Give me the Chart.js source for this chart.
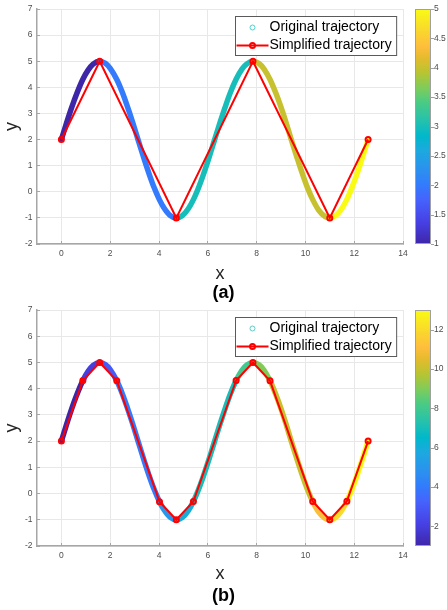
<!DOCTYPE html>
<html lang="en">
<head>
<meta charset="UTF-8">
<title>Trajectory simplification</title>
<script src="https://cdn.jsdelivr.net/npm/chart.js"></script>
<style>
  body { margin: 0; background: #fff; }
  .panel { position: relative; width: 447px; }
</style>
</head>
<body>
<div class="panel" style="height: 302px;"><canvas id="chartA"></canvas></div>
<div class="panel" style="height: 308px;"><canvas id="chartB"></canvas></div>
<script>
// sampled original trajectory
const origX = [0, 0.2, 0.4, 0.6, 0.88, 1.1, 1.3, 1.57, 1.8, 2.0, 2.27, 2.5, 2.7, 2.9, 3.14,
  3.4, 3.6, 3.8, 4.02, 4.2, 4.45, 4.71, 4.95, 5.2, 5.41, 5.6, 5.8, 6.05, 6.28, 6.5, 6.7, 6.9,
  7.16, 7.4, 7.6, 7.85, 8.1, 8.3, 8.55, 8.8, 9.0, 9.2, 9.42, 9.65, 9.9, 10.1, 10.3, 10.55,
  10.8, 11.0, 11.2, 11.45, 11.7, 11.9, 12.1, 12.3, 12.57];
const origY = [2.00, 2.60, 3.17, 3.69, 4.31, 4.67, 4.89, 5.00, 4.92, 4.73, 4.30, 3.80, 3.28, 2.72, 2.00,
  1.23, 0.67, 0.16, -0.31, -0.61, -0.90, -1.00, -0.92, -0.65, -0.30, 0.11, 0.61, 1.31, 2.00, 2.65, 3.21, 3.74,
  4.31, 4.70, 4.90, 5.00, 4.91, 4.71, 4.30, 3.75, 3.24, 2.67, 2.00, 1.33, 0.63, 0.12, -0.30, -0.71,
  -0.94, -1.00, -0.94, -0.70, -0.29, 0.15, 0.65, 1.21, 2.00];

// simplified trajectories
const simpAX = [0, 1.57, 4.71, 7.85, 11.0, 12.57];
const simpAY = [2, 5, -1, 5, -1, 2];
const simpBX = [0, 0.88, 1.57, 2.27, 4.02, 4.71, 5.41, 7.16, 7.85, 8.55, 10.3, 11.0, 11.7, 12.57];
const simpBY = [2, 4.31, 5, 4.30, -0.31, -1, -0.30, 4.31, 5, 4.30, -0.30, -1, -0.29, 2];

const xTicks = [0, 2, 4, 6, 8, 10, 12, 14];
const yTicks = [-2, -1, 0, 1, 2, 3, 4, 5, 6, 7];
const cbTicksA = [1, 1.5, 2, 2.5, 3, 3.5, 4, 4.5, 5];
const cbTicksB = [2, 4, 6, 8, 10, 12];

const seriesLabels = ['Original trajectory', 'Simplified trajectory'];
const panelTitles = ['(a)', '(b)'];

const FONT = '"Liberation Sans", Arial, Helvetica, sans-serif';
Chart.defaults.font.family = FONT;

// parula colour map stops [t, r, g, b]
const PARULA = [
  [0.000, 62, 38, 168], [0.095, 71, 65, 229], [0.190, 69, 99, 253], [0.254, 50, 124, 252],
  [0.317, 43, 145, 239], [0.397, 28, 169, 223], [0.460, 1, 184, 202], [0.524, 36, 193, 174],
  [0.603, 74, 203, 132], [0.667, 129, 204, 89], [0.730, 185, 196, 49], [0.794, 230, 187, 45],
  [0.841, 254, 190, 60], [0.905, 250, 214, 45], [1.000, 249, 251, 21]
];

function parula(t) {
  t = Math.min(1, Math.max(0, t));
  for (let i = 1; i < PARULA.length; i++) {
    const a = PARULA[i - 1], b = PARULA[i];
    if (t <= b[0]) {
      const f = (t - a[0]) / (b[0] - a[0]);
      const c = [1, 2, 3].map(k => Math.round(a[k] + (b[k] - a[k]) * f));
      return `rgb(${c[0]},${c[1]},${c[2]})`;
    }
  }
  return 'rgb(249,251,21)';
}

// colour index of a piece of the original curve = which simplified segment it falls in
function segmentColor(simpX, x0, x1) {
  const m = (x0 + x1) / 2;
  let k = 0;
  for (let i = 1; i < simpX.length - 1; i++) if (simpX[i] < m) k++;
  return parula(k / (simpX.length - 2));
}

// colour bar + boxed legend
const decor = {
  id: 'decor',
  afterDatasetsDraw(chart) {
    const ctx = chart.ctx, area = chart.chartArea, cb = chart.scales.cb;

    // colour bar
    const bx = area.right + 12, bw = 16;
    const grad = ctx.createLinearGradient(0, cb.bottom, 0, cb.top);
    PARULA.forEach(s => grad.addColorStop(s[0], `rgb(${s[1]},${s[2]},${s[3]})`));
    ctx.save();
    ctx.fillStyle = grad;
    ctx.fillRect(bx, cb.top, bw, cb.bottom - cb.top);
    ctx.strokeStyle = '#a0a0a0';
    ctx.lineWidth = 1;
    ctx.strokeRect(bx + 0.5, cb.top + 0.5, bw - 1, cb.bottom - cb.top - 1);
    cb.ticks.forEach(t => {
      const y = Math.round(cb.getPixelForValue(t.value)) + 0.5;
      ctx.beginPath();
      ctx.moveTo(bx + bw, y);
      ctx.lineTo(bx + bw + 3, y);
      ctx.stroke();
    });

    // legend
    ctx.font = '14px ' + FONT;
    const ds = chart.data.datasets;
    const tw = Math.max(...ds.map(d => ctx.measureText(d.label).width));
    const w = 34 + tw + 5, h = 39;
    const lx = Math.round(area.right - 7 - w) + 0.5, ly = Math.round(area.top + 7) + 0.5;
    ctx.fillStyle = '#fff';
    ctx.fillRect(lx, ly, w, h);
    ctx.strokeStyle = '#5a5a5a';
    ctx.strokeRect(lx, ly, w, h);

    const r1 = ly + 11, r2 = ly + 29, mx = lx + 17;
    ctx.strokeStyle = '#4fd1cd';
    ctx.lineWidth = 1;
    ctx.beginPath();
    ctx.arc(mx, r1, 2.5, 0, Math.PI * 2);
    ctx.stroke();

    ctx.strokeStyle = '#ff0000';
    ctx.lineWidth = 2;
    ctx.beginPath();
    ctx.moveTo(lx + 1, r2);
    ctx.lineTo(lx + 33, r2);
    ctx.stroke();
    ctx.beginPath();
    ctx.arc(mx, r2, 2.5, 0, Math.PI * 2);
    ctx.stroke();

    ctx.fillStyle = '#000';
    ctx.textBaseline = 'middle';
    ctx.textAlign = 'left';
    ctx.fillText(ds[0].label, lx + 34, r1);
    ctx.fillText(ds[1].label, lx + 34, r2);
    ctx.restore();
  }
};

// keep tick label overhang from pushing the plot area around
function noVPad(s) { s.paddingTop = 0; s.paddingBottom = 0; }

function buildPanel(id, simpX, simpY, cbMax, cbTicks, title, lay) {
  const axisGray = '#a6a6a6';
  const tickFont = { size: 8.5 };
  return new Chart(document.getElementById(id), {
    type: 'line',
    data: {
      datasets: [{
        label: seriesLabels[0],
        data: origX.map((x, i) => ({ x: x, y: origY[i] })),
        borderWidth: 5.5,
        borderCapStyle: 'round',
        borderJoinStyle: 'round',
        cubicInterpolationMode: 'monotone',
        pointRadius: 0,
        order: 1,
        segment: {
          borderColor: c => segmentColor(simpX, c.p0.parsed.x, c.p1.parsed.x)
        }
      }, {
        label: seriesLabels[1],
        data: simpX.map((x, i) => ({ x: x, y: simpY[i] })),
        borderColor: '#ff0000',
        borderWidth: 2,
        pointRadius: 2.5,
        pointBorderWidth: 2,
        pointBorderColor: '#ff0000',
        pointBackgroundColor: 'rgba(255,0,0,0)',
        order: 0
      }]
    },
    options: {
      responsive: true,
      maintainAspectRatio: false,
      animation: false,
      layout: { padding: { top: lay.top, left: 0, right: 0, bottom: 0 } },
      plugins: {
        legend: { display: false },
        tooltip: { enabled: false },
        title: {
          display: true,
          text: title,
          position: 'bottom',
          color: '#000',
          font: { size: 18, weight: 'bold', lineHeight: 1 },
          padding: { top: 0, bottom: lay.titlePad }
        }
      },
      scales: {
        x: {
          type: 'linear',
          min: -1,
          max: 14,
          afterBuildTicks: s => { s.ticks = xTicks.map(v => ({ value: v })); },
          afterFit: s => { s.height = lay.xHeight; },
          grid: { color: '#e8e8e8', tickLength: -3, tickColor: axisGray },
          border: { display: true, color: axisGray, width: 1.5 },
          ticks: { font: tickFont, color: '#4d4d4d', padding: 8, maxRotation: 0 },
          title: {
            display: true, text: 'x', color: '#262626',
            font: { size: 18, lineHeight: 1 }, padding: { top: 0, bottom: lay.xTitlePad }
          }
        },
        y: {
          type: 'linear',
          position: 'left',
          min: -2,
          max: 7,
          afterBuildTicks: s => { s.ticks = yTicks.map(v => ({ value: v })); },
          afterFit: s => { s.width = 37; noVPad(s); },
          grid: { color: '#e8e8e8', tickLength: -3, tickColor: axisGray },
          border: { display: true, color: axisGray, width: 1.5 },
          ticks: { font: tickFont, color: '#4d4d4d', padding: 7.5 },
          title: {
            display: true, text: 'y', color: '#262626',
            font: { size: 18, lineHeight: 1 }, padding: { top: 3.5, bottom: 0 }
          }
        },
        cb: {
          type: 'linear',
          position: 'right',
          min: 1,
          max: cbMax,
          afterBuildTicks: s => { s.ticks = cbTicks.map(v => ({ value: v })); },
          afterFit: s => { s.width = 44; noVPad(s); },
          grid: { display: false, drawTicks: false },
          border: { display: false },
          ticks: { font: tickFont, color: '#4d4d4d', padding: 31, callback: v => String(v) }
        }
      }
    },
    plugins: [decor]
  });
}

buildPanel('chartA', simpAX, simpAY, 5, cbTicksA, panelTitles[0],
  { top: 9, xHeight: 40, titlePad: 0, xTitlePad: 1 });
buildPanel('chartB', simpBX, simpBY, 13, cbTicksB, panelTitles[1],
  { top: 8, xHeight: 41, titlePad: 5, xTitlePad: 4 });
</script>
</body>
</html>
